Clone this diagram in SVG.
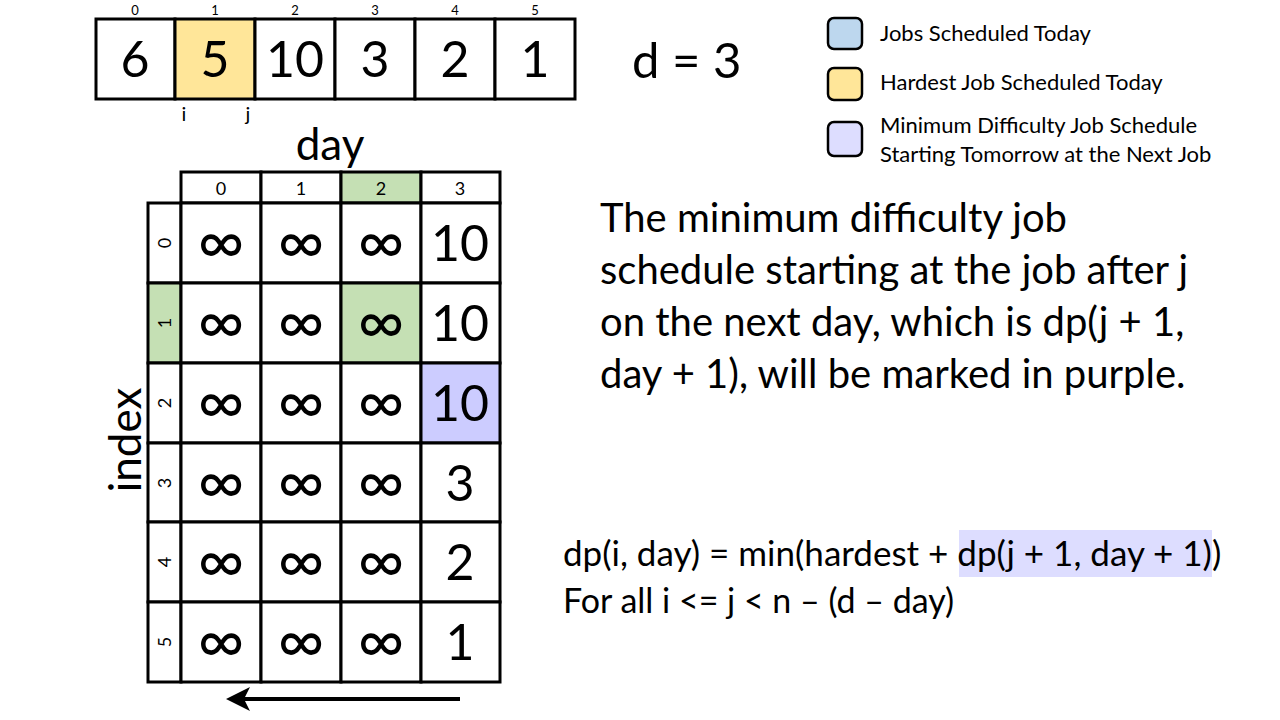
<svg xmlns="http://www.w3.org/2000/svg" width="1280" height="720" viewBox="0 0 1280 720">
<defs>
<style>
text{font-family:Lato,"Open Sans","Liberation Sans",sans-serif;fill:#000}
.cell{fill:#fff;stroke:#000;stroke-width:3}
.big{font-size:50px;text-anchor:middle}
.inf{font-size:64px;text-anchor:middle}
.idx{font-size:13px;text-anchor:middle}
.hdr{font-size:18px;text-anchor:middle}
.leg{font-size:22px}
.lbox{stroke:#000;stroke-width:2.5}
.body{font-size:40px}
.form{font-size:34px}
</style>
<marker id="ah" markerWidth="6" markerHeight="6" refX="5" refY="3" orient="auto" markerUnits="strokeWidth">
<path d="M0,0 L6,3 L0,6 L1.5,3 Z" fill="#000"/>
</marker>
</defs>
<rect width="1280" height="720" fill="#fff"/>

<g id="array">
<rect class="cell" x="96" y="19" width="79" height="80"/>
<rect class="cell" x="175" y="19" width="80" height="80" style="fill:#FFE699"/>
<rect class="cell" x="255" y="19" width="80" height="80"/>
<rect class="cell" x="335" y="19" width="80" height="80"/>
<rect class="cell" x="415" y="19" width="80" height="80"/>
<rect class="cell" x="495" y="19" width="80" height="80"/>
<text class="idx" x="135" y="15">0</text>
<text class="idx" x="215" y="15">1</text>
<text class="idx" x="295" y="15">2</text>
<text class="idx" x="375" y="15">3</text>
<text class="idx" x="455" y="15">4</text>
<text class="idx" x="535" y="15">5</text>
<text class="big" x="135" y="77">6</text>
<text class="big" x="215" y="77">5</text>
<text class="big" x="295" y="77">10</text>
<text class="big" x="375" y="77">3</text>
<text class="big" x="455" y="77">2</text>
<text class="big" x="535" y="77">1</text>
<text x="184" y="121" style="font-size:20px;text-anchor:middle">i</text>
<text x="248" y="121" style="font-size:20px;text-anchor:middle">j</text>
</g>

<g id="d-label"><text x="632" y="78" style="font-size:49px">d = 3</text></g>

<g id="legend">
<rect class="lbox" x="828" y="18" width="34" height="31" rx="6" fill="#BDD7EE"/>
<text class="leg" x="880" y="41">Jobs Scheduled Today</text>
<rect class="lbox" x="828" y="68" width="34" height="32" rx="6" fill="#FFE699"/>
<text class="leg" x="880" y="90">Hardest Job Scheduled Today</text>
<rect class="lbox" x="828" y="122" width="34" height="34" rx="6" fill="#DDDDFF"/>
<text class="leg" x="880" y="133">Minimum Difficulty Job Schedule</text>
<text class="leg" x="880" y="162">Starting Tomorrow at the Next Job</text>
</g>

<g id="table">
<text x="330" y="160" style="font-size:44px;text-anchor:middle">day</text>
<text transform="translate(141,440) rotate(-90)" style="font-size:44px;text-anchor:middle">index</text>
<rect class="cell" x="181" y="172" width="80" height="31"/>
<rect class="cell" x="261" y="172" width="80" height="31"/>
<rect class="cell" x="341" y="172" width="80" height="31" style="fill:#C5E0B4"/>
<rect class="cell" x="421" y="172" width="79" height="31"/>
<text class="hdr" x="221" y="195">0</text>
<text class="hdr" x="301" y="195">1</text>
<text class="hdr" x="381" y="195">2</text>
<text class="hdr" x="460" y="195">3</text>
<rect class="cell" x="148" y="203" width="33" height="80"/>
<rect class="cell" x="148" y="283" width="33" height="80" style="fill:#C5E0B4"/>
<rect class="cell" x="148" y="363" width="33" height="80"/>
<rect class="cell" x="148" y="443" width="33" height="79"/>
<rect class="cell" x="148" y="522" width="33" height="80"/>
<rect class="cell" x="148" y="602" width="33" height="80"/>
<text class="hdr" transform="translate(171,243) rotate(-90)">0</text>
<text class="hdr" transform="translate(171,323) rotate(-90)">1</text>
<text class="hdr" transform="translate(171,403) rotate(-90)">2</text>
<text class="hdr" transform="translate(171,483) rotate(-90)">3</text>
<text class="hdr" transform="translate(171,562) rotate(-90)">4</text>
<text class="hdr" transform="translate(171,642) rotate(-90)">5</text>
<rect class="cell" x="181" y="203" width="80" height="80"/>
<rect class="cell" x="261" y="203" width="80" height="80"/>
<rect class="cell" x="341" y="203" width="80" height="80"/>
<rect class="cell" x="421" y="203" width="79" height="80"/>
<rect class="cell" x="181" y="283" width="80" height="80"/>
<rect class="cell" x="261" y="283" width="80" height="80"/>
<rect class="cell" x="341" y="283" width="80" height="80" style="fill:#C5E0B4"/>
<rect class="cell" x="421" y="283" width="79" height="80"/>
<rect class="cell" x="181" y="363" width="80" height="80"/>
<rect class="cell" x="261" y="363" width="80" height="80"/>
<rect class="cell" x="341" y="363" width="80" height="80"/>
<rect class="cell" x="421" y="363" width="79" height="80" style="fill:#CCCCFF"/>
<rect class="cell" x="181" y="443" width="80" height="79"/>
<rect class="cell" x="261" y="443" width="80" height="79"/>
<rect class="cell" x="341" y="443" width="80" height="79"/>
<rect class="cell" x="421" y="443" width="79" height="79"/>
<rect class="cell" x="181" y="522" width="80" height="80"/>
<rect class="cell" x="261" y="522" width="80" height="80"/>
<rect class="cell" x="341" y="522" width="80" height="80"/>
<rect class="cell" x="421" y="522" width="79" height="80"/>
<rect class="cell" x="181" y="602" width="80" height="80"/>
<rect class="cell" x="261" y="602" width="80" height="80"/>
<rect class="cell" x="341" y="602" width="80" height="80"/>
<rect class="cell" x="421" y="602" width="79" height="80"/>
<g class="infs">
<text class="inf" x="221" y="264">∞</text><text class="inf" x="301" y="264">∞</text><text class="inf" x="381" y="264">∞</text>
<text class="inf" x="221" y="344">∞</text><text class="inf" x="301" y="344">∞</text><text class="inf" x="381" y="344">∞</text>
<text class="inf" x="221" y="424">∞</text><text class="inf" x="301" y="424">∞</text><text class="inf" x="381" y="424">∞</text>
<text class="inf" x="221" y="504">∞</text><text class="inf" x="301" y="504">∞</text><text class="inf" x="381" y="504">∞</text>
<text class="inf" x="221" y="583">∞</text><text class="inf" x="301" y="583">∞</text><text class="inf" x="381" y="583">∞</text>
<text class="inf" x="221" y="663">∞</text><text class="inf" x="301" y="663">∞</text><text class="inf" x="381" y="663">∞</text>
</g>
<text class="big" x="460" y="261">10</text>
<text class="big" x="460" y="341">10</text>
<text class="big" x="460" y="421">10</text>
<text class="big" x="460" y="501">3</text>
<text class="big" x="460" y="580">2</text>
<text class="big" x="460" y="660">1</text>
</g>

<g id="connectors">
<line x1="460" y1="699" x2="230" y2="699" stroke="#000" stroke-width="4" marker-end="url(#ah)"/>
</g>

<g id="explanation">
<text class="body" x="600" y="232">The minimum difficulty job</text>
<text class="body" x="600" y="284">schedule starting at the job after j</text>
<text class="body" x="600" y="336">on the next day, which is dp(j + 1,</text>
<text class="body" x="600" y="388">day + 1), will be marked in purple.</text>
</g>

<g id="formula">
<rect x="959" y="530" width="253" height="47" fill="#DDDDFF"/>
<text class="form" x="563" y="566" style="font-size:35px">dp(i, day) = min(hardest + dp(j + 1, day + 1))</text>
<text class="form" x="563" y="613">For all i &lt;= j &lt; n – (d – day)</text>
</g>
</svg>
